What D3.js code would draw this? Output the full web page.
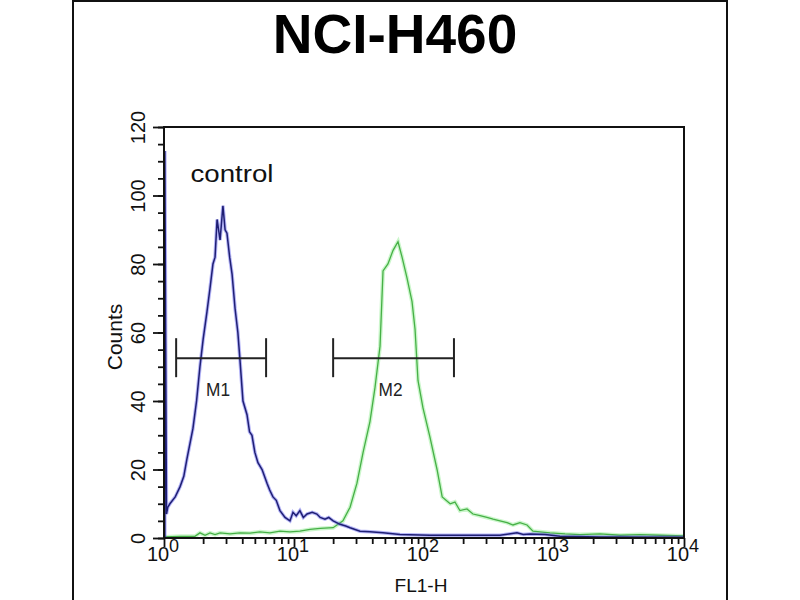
<!DOCTYPE html>
<html>
<head>
<meta charset="utf-8">
<script src="https://cdn.jsdelivr.net/npm/d3@7"></script>
<style>
  body { margin: 0; background: #fff; }
  svg { display: block; font-family: "Liberation Sans", Arial, sans-serif; }
</style>
</head>
<body>
<div id="chart"></div>
<script>
// Histogram: FL1-H channel value and event count
var controlX = [1.015, 1.015, 1.03, 1.045, 1.07, 1.11, 1.22, 1.33, 1.42, 1.5, 1.67, 1.78, 1.89, 2.0, 2.14, 2.26, 2.38, 2.47, 2.56,
  2.7, 2.84, 2.95, 3.05, 3.2, 3.34, 3.52, 3.7, 3.84, 4.05, 4.35, 4.55, 4.75, 5.0, 5.28, 5.68, 6.2, 6.5, 6.89, 7.3, 7.8, 8.53, 9.31,
  9.82, 10.4, 11.1, 11.8, 12.6, 13.8, 15.0, 15.9, 17.3, 18.5, 20.0, 22.6, 25, 27.0, 32.2, 38.4, 48.4, 65.4, 111, 189, 384,
  450, 519, 580, 654, 853, 1112, 2259, 10000];
var controlCounts = [0, 113, 57, 7, 9, 10, 12, 15, 18, 23, 32, 40, 50, 58, 66, 73, 80, 82, 93,
  87, 97, 90, 89, 82, 77, 67, 60, 52, 40, 36, 31, 30, 25, 22, 20, 16, 14, 12, 11, 8, 6, 5,
  7.5, 6.5, 8, 6, 7, 7.5, 7, 6, 5.5, 6, 5, 4, 3.5, 3, 2, 1.8, 1.5, 1, 0.8, 0.8, 0.8,
  1.2, 1.5, 1, 1.2, 1, 0.5, 0.3, 0.2];

var sampleX = [1.0, 1.33, 1.73, 1.89, 2.07, 2.26, 2.47, 2.7, 3.22, 3.84, 4.59, 5.47, 6.53, 7.8, 9.31,
  11.1, 13.3, 15.9, 20.0, 23.8, 27.0, 30.5, 34.0, 38.4, 42.0, 45.9, 48.4, 52.8, 57.8, 63.1, 67.8,
  73.9, 80.9, 85.3, 89.9, 98.2, 111, 126, 138, 159, 173, 189, 214, 238, 270, 305, 340, 384, 435,
  484, 547, 620, 689, 780, 931, 1216, 1585, 2259, 3219, 4589, 6531, 10000];
var sampleCounts = [0.3, 0.5, 0.5, 1.5, 0.8, 1.5, 1, 1.5, 1.2, 1.5, 1.4, 1.8, 1.5, 2, 1.8,
  2, 2.5, 2.8, 3, 5, 9, 16, 25, 34, 44, 56, 78, 80, 84, 86.5, 82,
  76, 69, 61, 46, 38, 29.5, 20, 12, 10, 10.5, 8, 8.5, 7, 6.5, 6, 5.5, 5, 4.5,
  3.8, 4.5, 3.8, 2, 1.8, 1.5, 1.2, 1, 1.2, 0.8, 1, 0.8, 0.6];

var yTicks = [0, 20, 40, 60, 80, 100, 120];
var xDecades = [0, 1, 2, 3, 4];

// Marker gates
var markers = [
  {label: "M1", from: 1.24, to: 6.1, level: 52.5},
  {label: "M2", from: 20, to: 170, level: 52.5}
];

var width = 800, height = 600;
var margin = {top: 127, right: 116, bottom: 62, left: 164};
var plotW = width - margin.left - margin.right;
var plotH = height - margin.top - margin.bottom;

var svg = d3.select("#chart").append("svg")
  .attr("width", width)
  .attr("height", height);

// Outer frame
svg.append("rect")
  .attr("x", 73).attr("y", 1)
  .attr("width", 654).attr("height", 620)
  .attr("fill", "none")
  .attr("stroke", "#111")
  .attr("stroke-width", 2);

// Title
svg.append("text")
  .attr("x", 395)
  .attr("y", 53)
  .attr("text-anchor", "middle")
  .attr("font-size", 55)
  .attr("font-weight", "bold")
  .attr("fill", "#000")
  .text("NCI-H460");

var x = d3.scaleLog().domain([1, 10000]).range([0, plotW]);
var y = d3.scaleLinear().domain([0, 120]).range([plotH, 0]);

var g = svg.append("g")
  .attr("transform", "translate(" + margin.left + "," + margin.top + ")");

// Y axis: minor ticks every 5, labelled every 20
g.append("g")
  .call(d3.axisLeft(y).tickValues(d3.range(0, 121, 5)).tickSize(6).tickFormat(""))
  .call(function(a) { a.select(".domain").remove(); })
  .selectAll("line").attr("stroke", "#111").attr("stroke-width", 1.8);

var yAxis = g.append("g")
  .call(d3.axisLeft(y).tickValues(yTicks).tickSize(11).tickFormat(d3.format("d")));
yAxis.select(".domain").remove();
yAxis.selectAll("line").attr("stroke", "#111").attr("stroke-width", 1.8);
yAxis.selectAll(".tick text")
  .attr("font-size", 20)
  .attr("fill", "#111")
  .attr("x", 0)
  .attr("y", -19)
  .attr("dy", null)
  .attr("text-anchor", "middle")
  .attr("transform", "rotate(-90)");

// X axis: log decades with minor ticks 2..9
var minor = [];
xDecades.slice(0, -1).forEach(function(p) {
  for (var k = 2; k < 10; k++) minor.push(k * Math.pow(10, p));
});
g.append("g")
  .attr("transform", "translate(0," + plotH + ")")
  .call(d3.axisBottom(x).tickValues(minor).tickSize(6).tickFormat(""))
  .call(function(a) { a.select(".domain").remove(); })
  .selectAll("line").attr("stroke", "#111").attr("stroke-width", 1.8);

var xAxis = g.append("g")
  .attr("transform", "translate(0," + plotH + ")")
  .call(d3.axisBottom(x).tickValues(xDecades.map(function(p) { return Math.pow(10, p); }))
    .tickSize(9).tickFormat(""));
xAxis.select(".domain").remove();
xAxis.selectAll("line").attr("stroke", "#111").attr("stroke-width", 1.8);

var xLabel = g.append("g").selectAll("text")
  .data(xDecades)
  .enter().append("text")
  .attr("x", function(p) { return x(Math.pow(10, p)) - 1; })
  .attr("y", plotH + 23)
  .attr("text-anchor", "middle")
  .attr("font-size", 20)
  .attr("fill", "#111");
xLabel.append("tspan").text("10");
xLabel.append("tspan")
  .attr("dy", -9)
  .attr("font-size", 18)
  .text(function(p) { return p; });

// Axis titles
svg.append("text")
  .attr("x", 421)
  .attr("y", 592)
  .attr("text-anchor", "middle")
  .attr("font-size", 19)
  .attr("fill", "#111")
  .attr("textLength", 53)
  .attr("lengthAdjust", "spacingAndGlyphs")
  .text("FL1-H");

svg.append("text")
  .attr("transform", "translate(122,337) rotate(-90)")
  .attr("text-anchor", "middle")
  .attr("font-size", 21)
  .attr("fill", "#111")
  .text("Counts");

// Curves
var line = d3.line()
  .x(function(d) { return x(d[0]); })
  .y(function(d) { return y(d[1]); });

var controlData = d3.zip(controlX, controlCounts);
var sampleData = d3.zip(sampleX, sampleCounts);

var curves = g.append("g");
curves.append("path").datum(sampleData)
  .attr("d", line).attr("fill", "none")
  .attr("stroke", "#a8f0a8").attr("stroke-width", 4).attr("stroke-opacity", 0.6);
curves.append("path").datum(sampleData)
  .attr("d", line).attr("fill", "none")
  .attr("stroke", "#46b046").attr("stroke-width", 1.3);
curves.append("path").datum(controlData)
  .attr("d", line).attr("fill", "none")
  .attr("stroke", "#5a5aee").attr("stroke-width", 3.5).attr("stroke-opacity", 0.45);
curves.append("path").datum(controlData)
  .attr("d", line).attr("fill", "none")
  .attr("stroke", "#1f1f74").attr("stroke-width", 1.5);

// Plot frame
g.append("rect")
  .attr("width", plotW).attr("height", plotH)
  .attr("fill", "none")
  .attr("stroke", "#111")
  .attr("stroke-width", 2);

// Control label
g.append("text")
  .attr("x", x(1.6))
  .attr("y", y(104))
  .attr("font-size", 23)
  .attr("fill", "#111")
  .attr("textLength", 83)
  .attr("lengthAdjust", "spacingAndGlyphs")
  .text("control");

// Marker gates
var gate = g.selectAll(".gate").data(markers).enter().append("g").attr("class", "gate");
gate.append("line")
  .attr("x1", function(d) { return x(d.from); })
  .attr("x2", function(d) { return x(d.to); })
  .attr("y1", function(d) { return y(d.level); })
  .attr("y2", function(d) { return y(d.level); })
  .attr("stroke", "#222").attr("stroke-width", 2);
gate.selectAll(".cap")
  .data(function(d) { return [[d.from, d.level], [d.to, d.level]]; })
  .enter().append("line")
  .attr("x1", function(c) { return x(c[0]); })
  .attr("x2", function(c) { return x(c[0]); })
  .attr("y1", function(c) { return y(c[1]) - 20; })
  .attr("y2", function(c) { return y(c[1]) + 19; })
  .attr("stroke", "#222").attr("stroke-width", 2);
gate.append("text")
  .attr("x", function(d) { return (x(d.from) + x(d.to)) / 2 - 3; })
  .attr("y", function(d) { return y(d.level) + 38; })
  .attr("text-anchor", "middle")
  .attr("font-size", 19)
  .attr("fill", "#222")
  .attr("textLength", 24)
  .attr("lengthAdjust", "spacingAndGlyphs")
  .text(function(d) { return d.label; });
</script>
</body>
</html>
